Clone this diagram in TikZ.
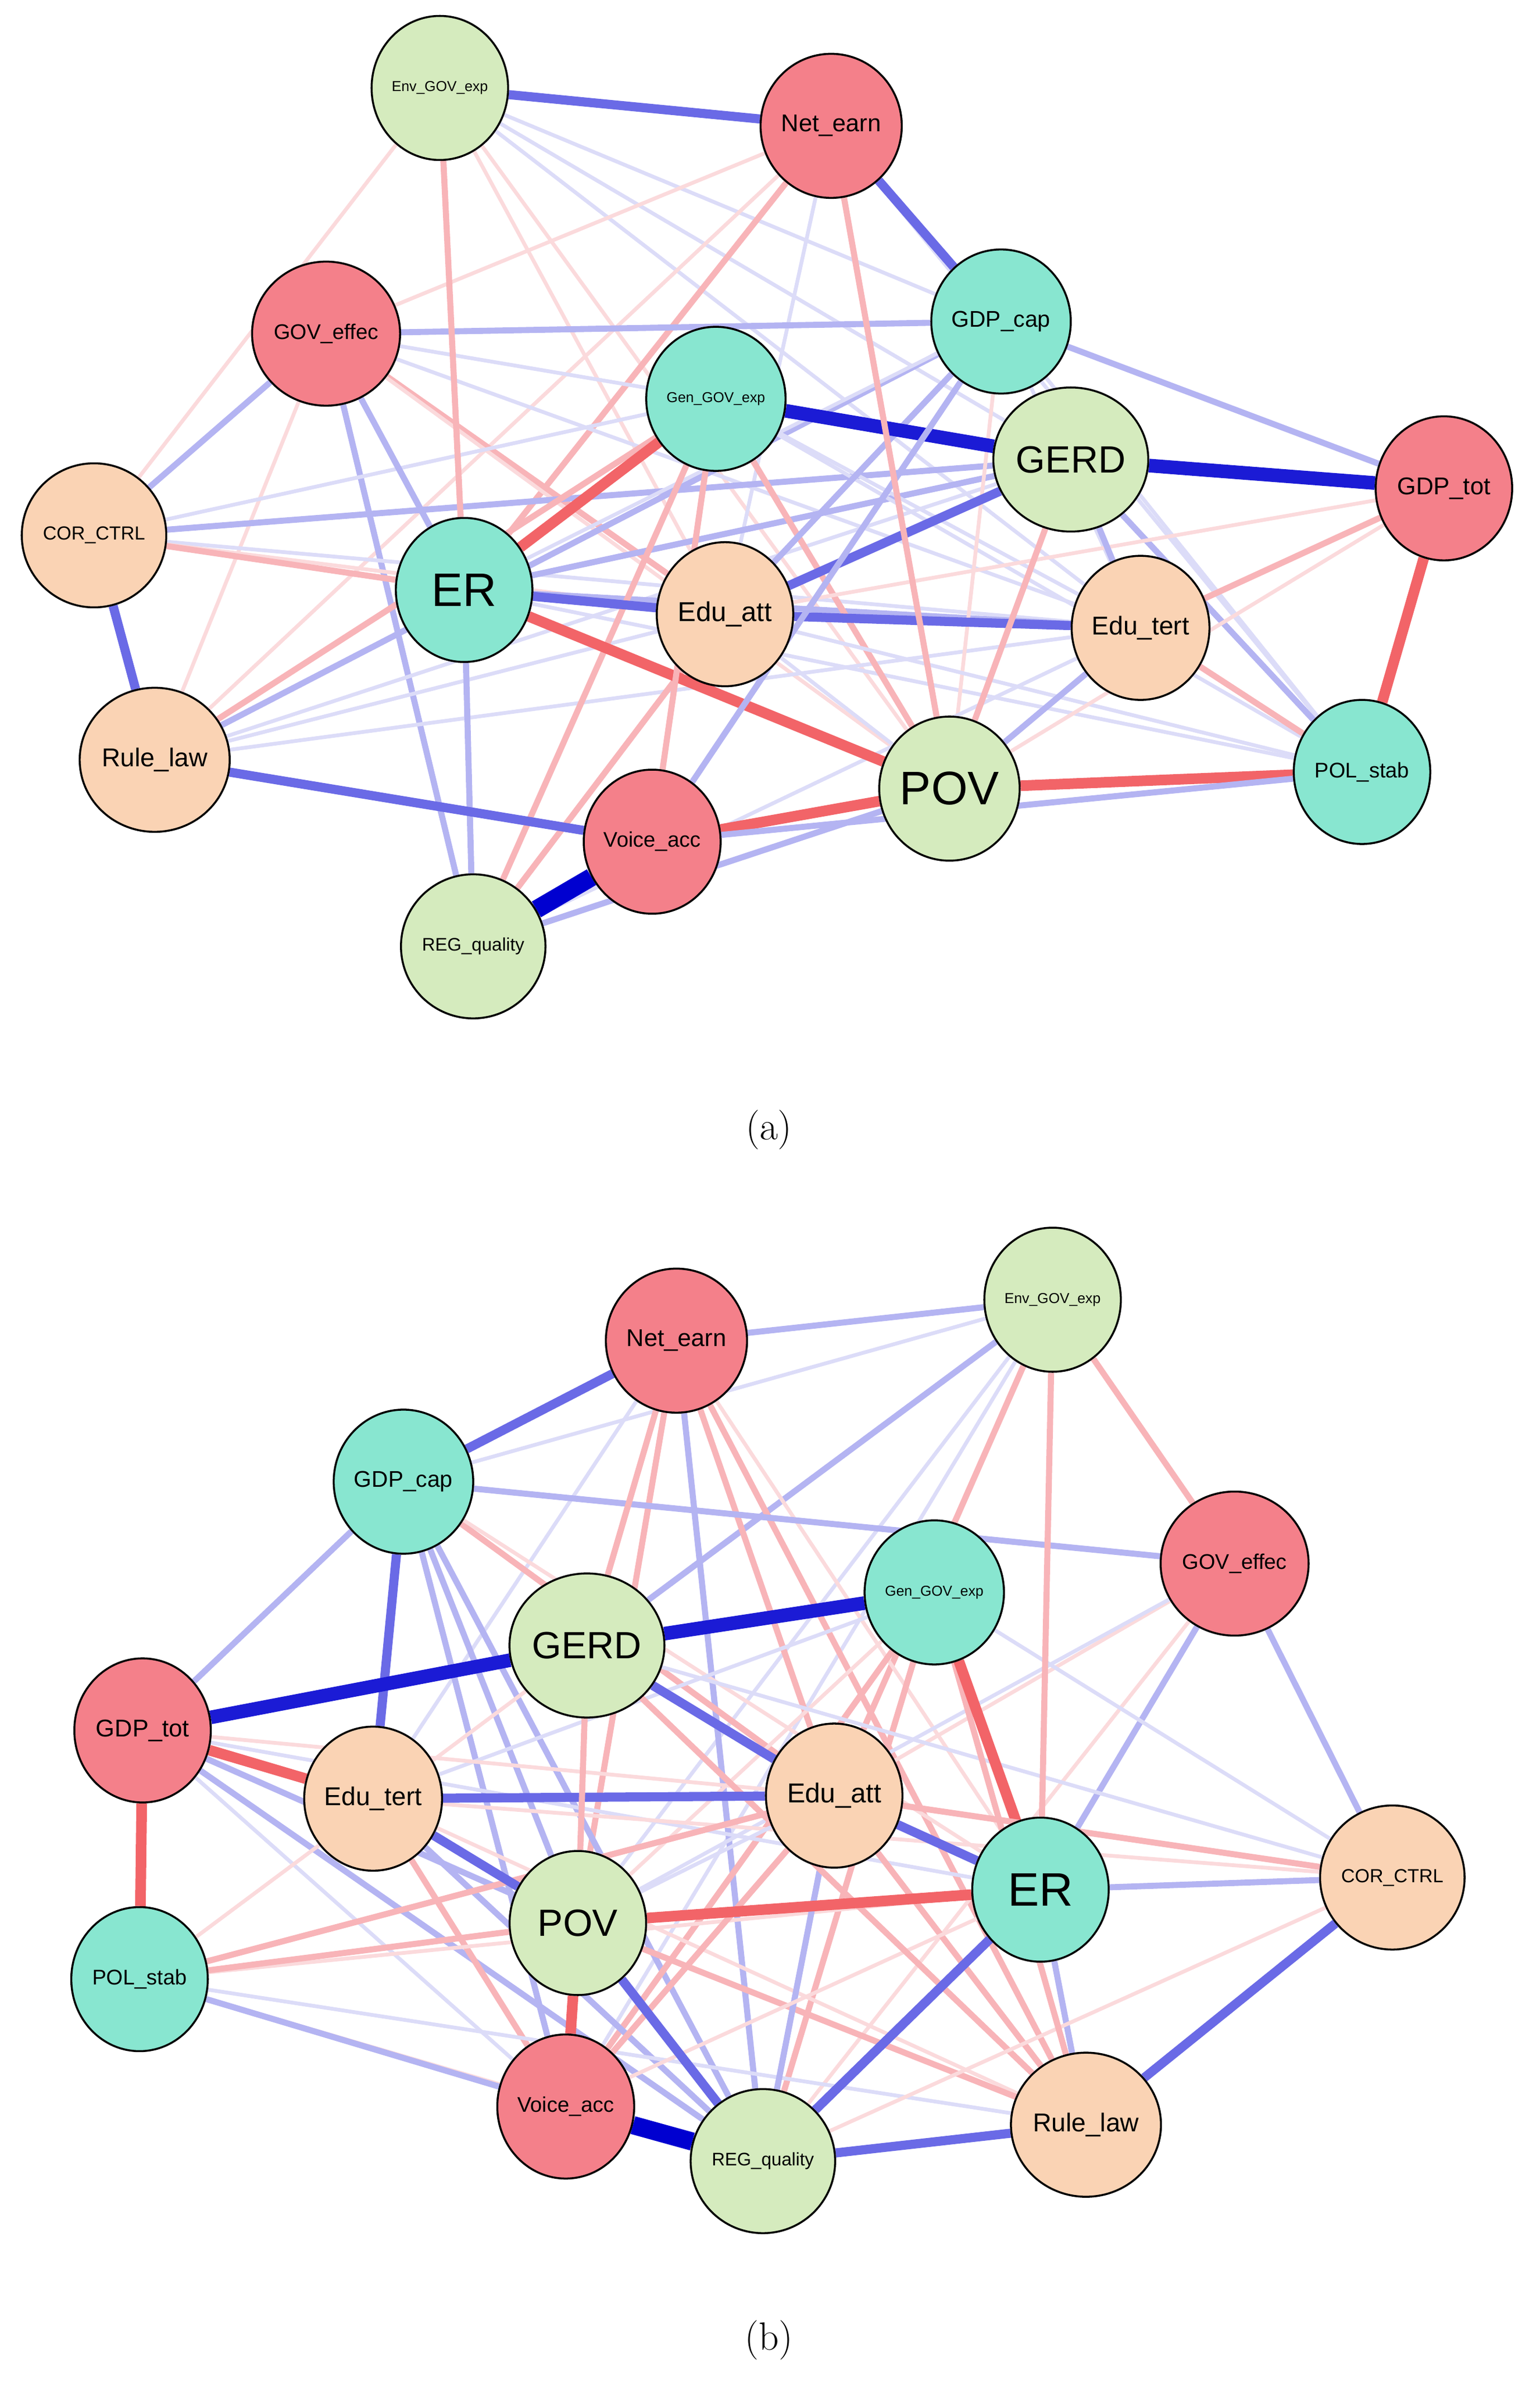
\documentclass[tikz,border=0pt]{standalone}
\usepackage{fontspec}
\newfontfamily\nodefont{Liberation Sans}
\usetikzlibrary{shapes.geometric,backgrounds}
\definecolor{cR}{HTML}{F4808A}
\definecolor{cT}{HTML}{88E6D0}
\definecolor{cG}{HTML}{D5EBBE}
\definecolor{cP}{HTML}{FAD3B4}
\definecolor{bD}{HTML}{0000D0}
\definecolor{bM}{HTML}{6A6AE6}
\definecolor{bL}{HTML}{B4B4F2}
\definecolor{bF}{HTML}{DCDCF8}
\definecolor{rM}{HTML}{F26468}
\definecolor{rL}{HTML}{F8B4B8}
\definecolor{rF}{HTML}{FBDADC}
\newcommand\E[3]{\draw[#3] (#1)--(#2);}
\tikzset{
 v/.style={ellipse,draw=black,line width=1.3pt,minimum width=90pt,minimum height=95pt,inner sep=0pt,font=\nodefont\fontsize{14}{14}\selectfont},
 sm/.style={font=\nodefont\fontsize{9.5}{10}\selectfont},
 bg/.style={font=\nodefont\fontsize{25}{25}\selectfont},
 hg/.style={font=\nodefont\fontsize{31}{31}\selectfont},
 R/.style={v,fill=cR},T/.style={v,fill=cT},G/.style={v,fill=cG},P/.style={v,fill=cP},
 capt/.style={font=\fontsize{26}{26}\selectfont},
 b1/.style={bD,line width=12pt},b2/.style={bD!75!bM,line width=9pt},
 bm/.style={bM,line width=6pt},bl/.style={bL,line width=4pt},bf/.style={bF,line width=2.5pt},
 rm/.style={rM,line width=7pt},rl/.style={rL,line width=4pt},rf/.style={rF,line width=2.5pt}
}
\begin{document}
\begin{tikzpicture}[x=1pt,y=-1pt]
\useasboundingbox (0,0) rectangle (1015,1570);
% (a)
\node[G,sm] (aEnv) at (290,58) {Env\_GOV\_exp};
\node[R,font=\nodefont\fontsize{16}{16}\selectfont] (aNet) at (548,83) {Net\_earn};
\node[T,font=\nodefont\fontsize{15}{15}\selectfont] (aCap) at (660,212) {GDP\_cap};
\node[R] (aGov) at (215,220) {GOV\_effec};
\node[T,sm] (aGen) at (472,263) {Gen\_GOV\_exp};
\node[G,bg] (aGERD) at (706,303) {GERD};
\node[R,font=\nodefont\fontsize{16}{16}\selectfont] (aTot) at (952,322) {GDP\_tot};
\node[P,font=\nodefont\fontsize{12.5}{13}\selectfont] (aCor) at (62,353) {COR\_CTRL};
\node[T,hg] (aER) at (306,389) {ER};
\node[P,font=\nodefont\fontsize{18}{18}\selectfont] (aAtt) at (478,405) {Edu\_att};
\node[P,font=\nodefont\fontsize{17}{17}\selectfont] (aTer) at (752,414) {Edu\_tert};
\node[P,font=\nodefont\fontsize{17}{17}\selectfont] (aRule) at (102,501) {Rule\_law};
\node[G,hg] (aPOV) at (626,520) {POV};
\node[T] (aPol) at (898,509) {POL\_stab};
\node[R] (aVoi) at (430,555) {Voice\_acc};
\node[G,font=\nodefont\fontsize{12}{12}\selectfont] (aReg) at (312,624) {REG\_quality};
\node[capt] (capa) at (507,745) {(a)};
% (b)
\node[G,sm] (bEnv) at (694,857) {Env\_GOV\_exp};
\node[R,font=\nodefont\fontsize{16}{16}\selectfont] (bNet) at (446,884) {Net\_earn};
\node[T,font=\nodefont\fontsize{15}{15}\selectfont] (bCap) at (266,977) {GDP\_cap};
\node[R] (bGov) at (814,1031) {GOV\_effec};
\node[T,sm] (bGen) at (616,1050) {Gen\_GOV\_exp};
\node[G,bg] (bGERD) at (387,1085) {GERD};
\node[R,font=\nodefont\fontsize{16}{16}\selectfont] (bTot) at (94,1141) {GDP\_tot};
\node[P,font=\nodefont\fontsize{17}{17}\selectfont] (bTer) at (246,1186) {Edu\_tert};
\node[P,font=\nodefont\fontsize{18}{18}\selectfont] (bAtt) at (550,1184) {Edu\_att};
\node[T,hg] (bER) at (686,1246) {ER};
\node[P,font=\nodefont\fontsize{12.5}{13}\selectfont] (bCor) at (918,1238) {COR\_CTRL};
\node[G,bg] (bPOV) at (381,1268) {POV};
\node[T] (bPol) at (92,1305) {POL\_stab};
\node[R] (bVoi) at (373,1389) {Voice\_acc};
\node[G,font=\nodefont\fontsize{12}{12}\selectfont] (bReg) at (503,1425) {REG\_quality};
\node[P,font=\nodefont\fontsize{17}{17}\selectfont] (bRule) at (716,1401) {Rule\_law};
\node[capt] (capb) at (507,1543) {(b)};
\begin{pgfonlayer}{background}
% (a) faint
\E{aEnv}{aCap}{bf}\E{aEnv}{aGERD}{bf}\E{aEnv}{aAtt}{rf}\E{aEnv}{aPOV}{rf}\E{aEnv}{aCor}{rf}\E{aEnv}{aTer}{bf}
\E{aNet}{aGov}{rf}\E{aNet}{aER}{rl}\E{aNet}{aAtt}{bf}\E{aNet}{aPol}{bf}\E{aNet}{aRule}{rf}
\E{aGov}{aAtt}{rl}\E{aGov}{aPOV}{rf}\E{aGov}{aGERD}{bf}\E{aGov}{aReg}{bl}\E{aGov}{aTer}{bf}\E{aGov}{aRule}{rf}
\E{aCor}{aGERD}{bl}\E{aCor}{aTer}{bf}\E{aCor}{aAtt}{rf}\E{aCor}{aGen}{bf}
\E{aRule}{aGen}{rl}\E{aRule}{aGERD}{bf}\E{aRule}{aTer}{bf}\E{aRule}{aCap}{bl}\E{aRule}{aAtt}{bf}
\E{aER}{aTer}{bl}\E{aER}{aCap}{bf}\E{aER}{aGERD}{bl}\E{aER}{aPol}{bf}
\E{aGen}{aPOV}{rl}\E{aGen}{aTer}{bf}\E{aGen}{aPol}{bf}\E{aGen}{aReg}{rl}
\E{aCap}{aAtt}{bl}\E{aCap}{aPOV}{rf}\E{aCap}{aTer}{bf}\E{aCap}{aPol}{bf}
\E{aAtt}{aPol}{bf}\E{aAtt}{aPOV}{bf}\E{aTer}{aPol}{rl}\E{aGERD}{aPol}{bl}\E{aTot}{aPOV}{rf}\E{aTot}{aAtt}{rf}
\E{aReg}{aAtt}{rl}\E{aReg}{aPOV}{bl}\E{aReg}{aTer}{bf}
% (a) main
\E{aEnv}{aNet}{bm}\E{aNet}{aCap}{bm}\E{aGov}{aCap}{bl}\E{aGen}{aGERD}{b2}\E{aGERD}{aTot}{b2}
\E{aCap}{aTot}{bl}\E{aTot}{aPol}{rm}\E{aTot}{aTer}{rl}\E{aCor}{aGov}{bl}\E{aCor}{aRule}{bm}
\E{aCor}{aER}{rl}\E{aER}{aGen}{rm}\E{aER}{aAtt}{bm}\E{aAtt}{aTer}{bm}\E{aAtt}{aGERD}{bm}
\E{aER}{aPOV}{rm}\E{aER}{aGov}{bl}\E{aER}{aReg}{bl}\E{aRule}{aVoi}{bm}\E{aVoi}{aReg}{b1}
\E{aVoi}{aPOV}{rm}\E{aPOV}{aPol}{rm}\E{aPOV}{aTer}{bl}\E{aEnv}{aER}{rl}\E{aVoi}{aGen}{rl}
\E{aVoi}{aCap}{bl}\E{aPOV}{aGERD}{rl}\E{aNet}{aPOV}{rl}\E{aTer}{aGERD}{bl}\E{aVoi}{aPol}{bl}
% (b) faint
\E{bEnv}{bCap}{bf}\E{bEnv}{bGERD}{bl}\E{bEnv}{bAtt}{rl}\E{bEnv}{bPOV}{bf}\E{bEnv}{bVoi}{bf}\E{bEnv}{bGov}{rl}
\E{bNet}{bAtt}{rl}\E{bNet}{bPOV}{rl}\E{bNet}{bER}{rf}\E{bNet}{bReg}{bl}\E{bNet}{bTer}{bf}\E{bNet}{bRule}{rl}
\E{bCap}{bPOV}{bl}\E{bCap}{bAtt}{rl}\E{bCap}{bReg}{bl}\E{bCap}{bVoi}{bl}\E{bCap}{bER}{rf}
\E{bGov}{bER}{bl}\E{bGov}{bAtt}{rf}\E{bGov}{bPOV}{bf}\E{bGov}{bReg}{rf}
\E{bGen}{bVoi}{rl}\E{bGen}{bReg}{rl}\E{bGen}{bPOV}{rf}\E{bGen}{bTer}{bf}\E{bGen}{bCor}{bf}
\E{bTot}{bPOV}{bl}\E{bTot}{bReg}{bl}\E{bTot}{bAtt}{rf}\E{bTot}{bER}{bf}\E{bTot}{bVoi}{bf}
\E{bTer}{bReg}{bl}\E{bTer}{bVoi}{rl}\E{bTer}{bCor}{rf}\E{bTer}{bRule}{rf}
\E{bPol}{bAtt}{rl}\E{bPol}{bER}{rf}\E{bPol}{bGERD}{rf}\E{bPol}{bReg}{rf}\E{bPol}{bRule}{bf}
\E{bPOV}{bAtt}{bf}\E{bPOV}{bRule}{rl}\E{bAtt}{bRule}{rl}\E{bAtt}{bReg}{bl}\E{bVoi}{bER}{rf}\E{bVoi}{bAtt}{rl}
\E{bGERD}{bRule}{rl}\E{bGERD}{bCor}{bf}\E{bER}{bRule}{bl}\E{bReg}{bCor}{rf}\E{bGen}{bRule}{rl}
% (b) main
\E{bNet}{bEnv}{bl}\E{bNet}{bCap}{bm}\E{bCap}{bGov}{bl}\E{bCap}{bTot}{bl}\E{bCap}{bTer}{bm}
\E{bGERD}{bGen}{b2}\E{bGERD}{bTot}{b2}\E{bTot}{bPol}{rm}\E{bTot}{bTer}{rm}\E{bTer}{bAtt}{bm}
\E{bTer}{bPOV}{bm}\E{bGERD}{bAtt}{bm}\E{bPOV}{bER}{rm}\E{bPOV}{bVoi}{rm}\E{bVoi}{bReg}{b1}
\E{bReg}{bRule}{bm}\E{bRule}{bCor}{bm}\E{bPOV}{bReg}{bm}\E{bER}{bGen}{rm}\E{bER}{bAtt}{bm}
\E{bER}{bReg}{bm}\E{bPol}{bVoi}{bl}\E{bPol}{bPOV}{rl}\E{bGERD}{bPOV}{rl}\E{bGov}{bCor}{bl}
\E{bEnv}{bER}{rl}\E{bNet}{bGERD}{rl}\E{bAtt}{bCor}{rl}\E{bER}{bCor}{bl}
\end{pgfonlayer}
\end{tikzpicture}
\end{document}
